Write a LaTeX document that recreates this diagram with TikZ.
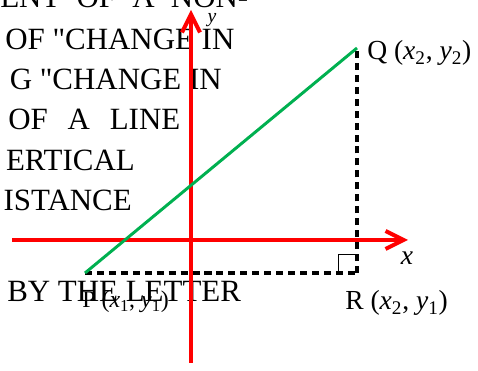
\documentclass[tikz,border=0pt]{standalone}
\usepackage{fontspec}
\setmainfont{Liberation Serif}
\usetikzlibrary{arrows.meta, positioning}
\definecolor{linegreen}{RGB}{0,176,80}

\begin{document}
\begin{tikzpicture}[
  axis/.style={draw=red, line width=2.8pt,
               -{Straight Barb[length=0.45cm, width=0.45cm]}},
  legline/.style={black, line width=2.4pt, dash pattern=on 5pt off 3.5pt},
  body/.style={font=\fontsize{22}{26}\selectfont, inner sep=0pt},
  lbl/.style={font=\fontsize{19.6}{22}\selectfont, inner sep=0pt}
]
  \path[use as bounding box, clip] (0,0) rectangle (11.95,9.275);

  % page text behind the figure
  \node[body, anchor=base west] (ln1) at (0,9.075)   {\makebox[6.2cm][s]{ENT OF A NON-}};
  \node[body, anchor=base west] (ln2) at (0.125,8.025) {OF \textquotedbl CHANGE IN};
  \node[body, anchor=base east] (ln3) at (5.55,7.025) {G \textquotedbl CHANGE IN};
  \node[body, anchor=base west] (ln4) at (0.2,6.025)  {\makebox[4.3cm][s]{OF A LINE}};
  \node[body, anchor=base east] (ln5) at (3.375,5.0) {ERTICAL};
  \node[body, anchor=base east] (ln6) at (3.3,4.0)   {ISTANCE};
  \node[body, anchor=base west] (ln7) at (0.175,1.725) {BY THE LETTER};

  % axes
  \coordinate (xl) at (0.3,3.275);
  \coordinate (xr) at (10.2,3.275);
  \coordinate (yb) at (4.775,0.2);
  \coordinate (yt) at (4.775,9.025);
  \draw[axis] (xl) -- (xr);
  \draw[axis] (yb) -- (yt);
  \node[lbl] (xlab) at (10.175,2.825) {\textit{x}};
  \node[font=\fontsize{14}{16}\selectfont, inner sep=0pt] (ylab) at (5.3,8.775) {\textit{y}};

  % points
  \coordinate (P) at (2.125,2.45);
  \coordinate (Q) at (8.925,8.075);
  \coordinate (R) at (8.925,2.45);

  \draw[legline] (P) -- (R);
  \draw[legline] (R) -- (Q);
  \draw[line width=0.7pt] (R) ++(-0.475,0) |- ++(0.475,0.475);
  \draw[linegreen, line width=2.1pt] (P) -- (Q);

  \node[lbl, anchor=base west] (qlab) at (9.175,7.775)
    {Q (\textit{x}\textsubscript{2}, \textit{y}\textsubscript{2})};
  \node[lbl, anchor=base west] (rlab) at (8.625,1.525)
    {R (\textit{x}\textsubscript{2}, \textit{y}\textsubscript{1})};
  \node[font=\fontsize{17}{20}\selectfont, inner sep=0pt, anchor=base west] (plab) at (2.05,1.575)
    {P (\textit{x}\textsubscript{1}, \textit{y}\textsubscript{1})};
\end{tikzpicture}
\end{document}
